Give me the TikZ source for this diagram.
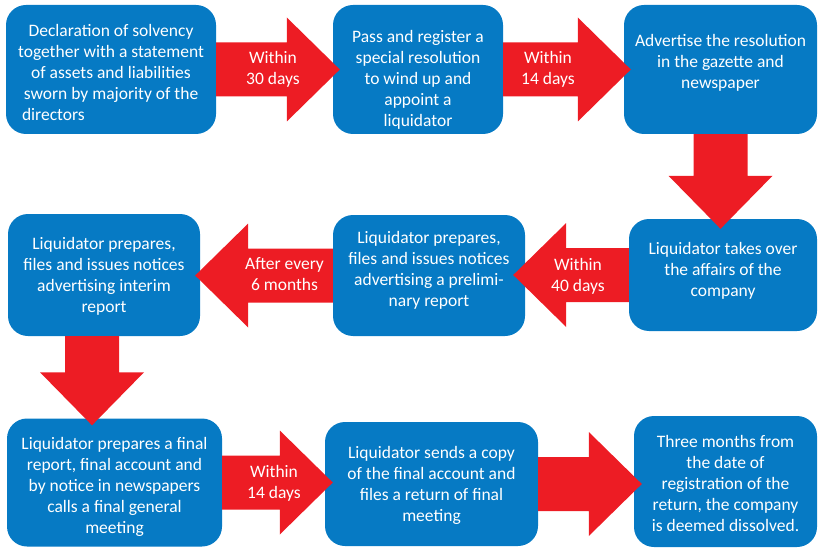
\documentclass[tikz,border=0pt]{standalone}
\usepackage{fontspec}
\setmainfont{Carlito}
\usetikzlibrary{calc, positioning}

\definecolor{stageblue}{RGB}{6,122,196}
\definecolor{arrowred}{RGB}{237,28,36}

\tikzset{
  stage/.style={rectangle, rounded corners=20pt, fill=stageblue, inner sep=0pt},
  stagetext/.style={text=white, align=center, inner sep=0pt,
                    font=\fontsize{17.5}{21}\selectfont},
  gaplabel/.style={stagetext}
}

% block arrow from #1 to its tip #2
\newcommand{\blockarrow}[2]{%
  \coordinate (ba-h) at ($(#2)!53pt!(#1)$);
  \fill[arrowred] ($(#1)!27pt!90:(#2)$) -- ($(ba-h)!27pt!90:(#2)$)
    -- ($(ba-h)!52pt!90:(#2)$) -- (#2) -- ($(ba-h)!52pt!-90:(#2)$)
    -- ($(ba-h)!27pt!-90:(#2)$) -- ($(#1)!27pt!-90:(#2)$) -- cycle;
}

\begin{document}
\begin{tikzpicture}[x=1pt, y=1pt]
  \useasboundingbox (0,0) rectangle (818,547);

  \node[stage, minimum width=210pt, minimum height=129pt,
        label={[stagetext, yshift=-3pt]center:{Declaration of solvency\\together with a statement\\of assets and liabilities\\sworn by majority of the\\\makebox[178pt][l]{directors}}}]
        (b1) at (111,477.5) {};
  \node[stage, minimum width=170pt, minimum height=129pt,
        label={[stagetext, yshift=-10pt]center:{Pass and register a\\special resolution\\to wind up and\\appoint a\\liquidator}}]
        (b2) at (418,477.5) {};
  \node[stage, minimum width=193pt, minimum height=129pt,
        label={[stagetext, yshift=7pt]center:{Advertise the resolution\\in the gazette and\\newspaper}}]
        (b3) at (720.5,477.5) {};
  \node[stage, minimum width=188pt, minimum height=112pt,
        label={[stagetext, yshift=4pt]center:{Liquidator takes over\\the affairs of the\\company}}]
        (b4) at (723,272) {};
  \node[stage, minimum width=192pt, minimum height=121pt,
        label={[stagetext, yshift=5pt]center:{Liquidator prepares,\\files and issues notices\\advertising a prelimi-\\nary report}}]
        (b5) at (429,271.5) {};
  \node[stage, minimum width=192pt, minimum height=122pt,
        label={[stagetext, yshift=-1pt]center:{Liquidator prepares,\\files and issues notices\\advertising interim\\report}}]
        (b6) at (104,272) {};
  \node[stage, minimum width=215pt, minimum height=128pt,
        label={[stagetext, yshift=-4pt]center:{Liquidator prepares a final\\report, final account and\\by notice in newspapers\\calls a final general\\meeting}}]
        (b7) at (114.5,64.5) {};
  \node[stage, minimum width=213pt, minimum height=124pt,
        label={[stagetext, yshift=-1pt]center:{Liquidator sends a copy\\of the final account and\\files a return of final\\meeting}}]
        (b8) at (431.5,63) {};
  \node[stage, minimum width=183pt, minimum height=131pt,
        label={[stagetext, yshift=-2pt]center:{Three months from\\the date of\\registration of the\\return, the company\\is deemed dissolved.}}]
        (b9) at (725.5,65.5) {};

  % arrows
  \coordinate (a1tip) at ($(b1.east -| b2.west)+(7,0)$);
  \blockarrow{b1.east}{a1tip}
  \coordinate (a2tip) at ($(b2.east -| b3.west)+(7,0)$);
  \blockarrow{b2.east}{a2tip}
  \coordinate (d1tip) at ($(b3.south |- b4.north)+(0,-10)$);
  \blockarrow{b3.south}{d1tip}
  \coordinate (l1tip) at ($(b4.west -| b5.east)+(-12,0)$);
  \blockarrow{b4.west}{l1tip}
  \coordinate (l2tip) at ($(b5.west -| b6.east)+(-5,0)$);
  \blockarrow{b5.west}{l2tip}
  \coordinate (d2start) at ($(b6.south)+(-12,0)$);
  \coordinate (d2tip) at ($(d2start |- b7.north)+(0,-7)$);
  \blockarrow{d2start}{d2tip}
  \coordinate (r1tip) at ($(b7.east -| b8.west)+(8,0)$);
  \blockarrow{b7.east}{r1tip}
  \coordinate (r2tip) at ($(b8.east -| b9.west)+(8,0)$);
  \blockarrow{b8.east}{r2tip}

  \node[gaplabel] (t1) at (273,478) {Within\\30 days};
  \node[gaplabel] (t2) at (548,478) {Within\\14 days};
  \node[gaplabel] (t3) at (578,271) {Within\\40 days};
  \node[gaplabel] (t4) at (284.5,273) {After every\\6 months};
  \node[gaplabel] (t5) at (274,64) {Within\\14 days};
\end{tikzpicture}
\end{document}
